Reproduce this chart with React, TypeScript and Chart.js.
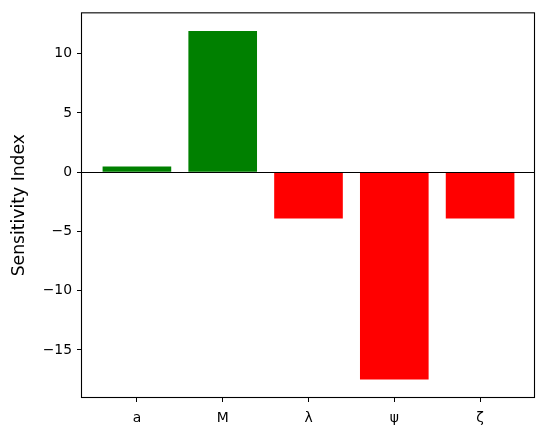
import React, { useEffect, useRef } from "react";
import { Chart, registerables } from "chart.js";

Chart.register(...registerables);

const categories = ["a", "M", "λ", "ψ", "ζ"];
const sensitivity = [0.48, 11.93, -3.9, -17.5, -3.9];
const yTicks = [-15, -10, -5, 0, 5, 10];

const FONT = "'DejaVu Sans', sans-serif";

const frame = {
  id: "frame",
  afterDatasetsDraw(chart: any) {
    const { ctx, chartArea, scales } = chart;
    const y0 = Math.round(scales.y.getPixelForValue(0)) + 0.5;
    ctx.save();
    ctx.strokeStyle = "#000";
    ctx.lineWidth = 1;
    ctx.beginPath();
    ctx.moveTo(chartArea.left, y0);
    ctx.lineTo(chartArea.right, y0);
    ctx.stroke();
    ctx.restore();
  },
  afterDraw(chart: any) {
    const { ctx, chartArea } = chart;
    ctx.save();
    ctx.strokeStyle = "#000";
    ctx.lineWidth = 1.1;
    ctx.strokeRect(
      chartArea.left - 0.5,
      chartArea.top - 0.5,
      chartArea.right - chartArea.left,
      chartArea.bottom - chartArea.top + 1
    );
    ctx.restore();
  },
};

export default function App() {
  const ref = useRef<HTMLCanvasElement>(null);
  useEffect(() => {
    if (!ref.current) return;
    const chart = new Chart(ref.current, {
      type: "bar",
      data: {
        datasets: [
          {
            data: sensitivity.map((v, i) => ({ x: i, y: v })),
            backgroundColor: sensitivity.map((v) => (v >= 0 ? "#008000" : "#ff0000")),
            borderWidth: 0,
            barPercentage: 0.8,
            categoryPercentage: 1,
          },
        ],
      },
      options: {
        animation: false,
        responsive: false,
        layout: { padding: { left: 0, top: 10, right: 13, bottom: 0 } },
        plugins: { legend: { display: false }, tooltip: { enabled: false } },
        scales: {
          x: {
            type: "linear",
            offset: false,
            min: -0.64,
            max: 4.64,
            afterBuildTicks: (axis: any) => {
              axis.ticks = categories.map((_, i) => ({ value: i }));
            },
            afterFit: (axis: any) => {
              axis.height = 38;
            },
            ticks: {
              callback: (v: any) => categories[v] ?? "",
              color: "#000",
              font: { family: FONT, size: 13.9 },
              padding: 8,
              maxRotation: 0,
              autoSkip: false,
            },
            grid: {
              offset: false,
              drawOnChartArea: false,
              tickLength: 5,
              tickColor: "#000",
              tickWidth: 1,
            },
            border: { display: false },
          },
          y: {
            min: -18.97,
            max: 13.41,
            afterBuildTicks: (axis: any) => {
              axis.ticks = yTicks.map((v) => ({ value: v }));
            },
            afterFit: (axis: any) => {
              axis.width = 82;
            },
            ticks: {
              callback: (v: any) => (v < 0 ? "\u2212" + Math.abs(v) : String(v)),
              color: "#000",
              font: { family: FONT, size: 13.9 },
              padding: 5,
            },
            grid: {
              drawOnChartArea: false,
              tickLength: 5,
              tickColor: "#000",
              tickWidth: 1,
            },
            border: { display: false },
            title: {
              display: true,
              text: "Sensitivity Index",
              color: "#000",
              font: { family: FONT, size: 17.2 },
              padding: { top: 9, bottom: 0 },
            },
          },
        },
      },
      plugins: [frame],
    } as any);
    return () => chart.destroy();
  }, []);
  return (
    <div style={{ position: "fixed", left: 0, top: 0, width: 548, height: 435, background: "#fff" }}>
      <canvas ref={ref} width={548} height={435} style={{ display: "block" }} />
    </div>
  );
}
